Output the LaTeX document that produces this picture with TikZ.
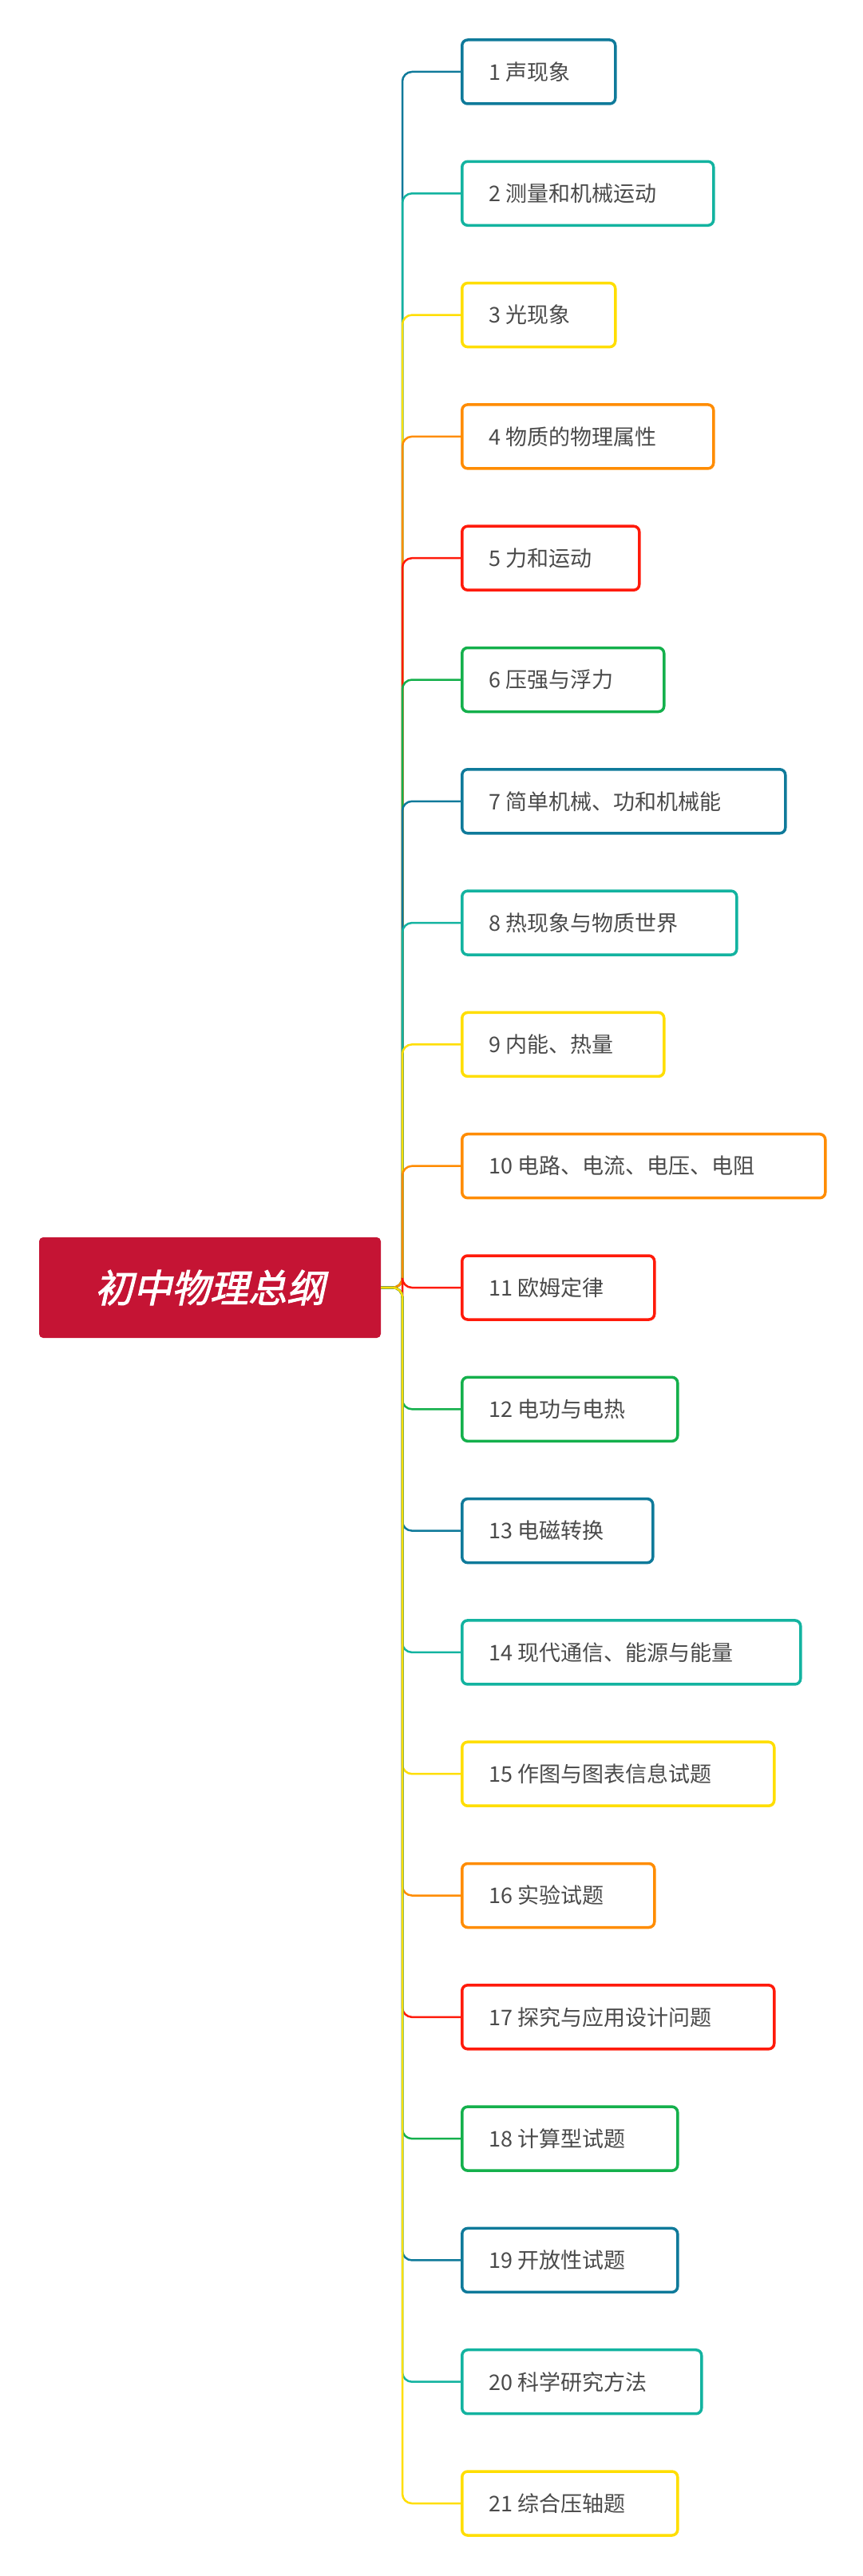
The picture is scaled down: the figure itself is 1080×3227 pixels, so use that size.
\documentclass[tikz,border=0pt]{standalone}
\usepackage{fontspec}
\setmainfont{Noto Sans CJK SC}
\newfontfamily\rootfont[FakeSlant=0.22,FakeBold=2]{Noto Sans CJK SC}
\definecolor{cBlue}{HTML}{0F7A9A}
\definecolor{cTeal}{HTML}{13B3A0}
\definecolor{cYellow}{HTML}{FFDE00}
\definecolor{cOrange}{HTML}{FF8C00}
\definecolor{cRed}{HTML}{FF1A0A}
\definecolor{cGreen}{HTML}{14B04C}
\definecolor{cRoot}{HTML}{C51434}
\definecolor{cText}{HTML}{4A4A4A}

\begin{document}
\begin{tikzpicture}[x=1pt,y=-1pt]

\tikzset{topic/.style = {draw,line width=3.5pt,rounded corners=7pt,anchor=west,
  minimum height=80pt,inner xsep=0pt,text=cText,font=\fontsize{27}{30}\selectfont}}
\tikzset{branch/.style = {line width=2.5pt,rounded corners=12pt}}

\useasboundingbox (0,0) rectangle (1080,3227);

% root
\node[fill=cRoot,rounded corners=5pt,minimum width=428pt,minimum height=126pt,
  text=white,font=\rootfont\fontsize{48}{52}\selectfont] (root) at (263,1613) {初中物理总纲};
\coordinate (sp) at (504,1613);

% topics
\foreach \i/\w/\t in {1/192/声现象, 2/315/测量和机械运动, 3/192/光现象, 4/315/物质的物理属性,
  5/222/力和运动, 6/253/压强与浮力, 7/405/简单机械、功和机械能, 8/344/热现象与物质世界,
  9/253/内能、热量, 10/455/电路、电流、电压、电阻, 11/241/欧姆定律, 12/270/电功与电热,
  13/239/电磁转换, 14/424/现代通信、能源与能量, 15/391/作图与图表信息试题, 16/241/实验试题,
  17/391/探究与应用设计问题, 18/270/计算型试题, 19/270/开放性试题, 20/300/科学研究方法,
  21/270/综合压轴题}{
  \pgfmathtruncatemacro{\k}{mod(\i-1,6)}
  \ifcase\k \def\c{cBlue}\or \def\c{cTeal}\or \def\c{cYellow}\or \def\c{cOrange}\or \def\c{cRed}\or \def\c{cGreen}\fi
  \node[topic,draw=\c] (b\i) at (577,{90+152.3*(\i-1)}) {\makebox[\w pt][l]{\hspace{34pt}\i\ \t}};
  \draw[branch,draw=\c] (root.east) -- (sp) |- (b\i.west);
}

\end{tikzpicture}
\end{document}
